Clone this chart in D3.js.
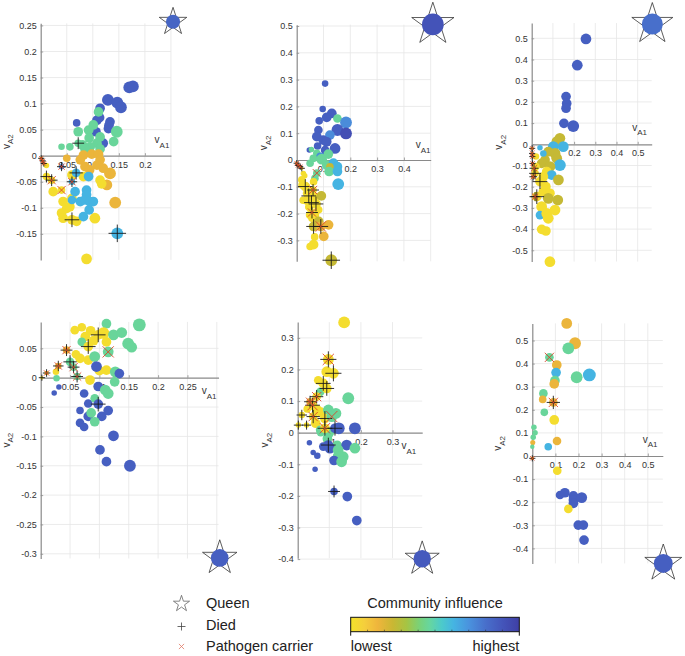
<!DOCTYPE html>
<html><head><meta charset="utf-8">
<script src="https://cdn.jsdelivr.net/npm/d3@7"></script>
<style>
body{margin:0;background:#fff}
svg{display:block}
text{font-family:"Liberation Sans",Arial,Helvetica,sans-serif}
</style>
</head><body>
<svg id="c" width="685" height="656"></svg>
<script>
// ---------- DATA ----------
// each row: [vA1, vA2, community influence (0 lowest .. 1 highest), size class, status]
// status: 0 = none, 1 = died, 2 = pathogen carrier, 3 = died + pathogen carrier
const panel1 = [
[0.170,0.131,0.86,5,0],[0.177,0.133,0.86,5,0],[0.129,0.107,0.86,5,0],[0.147,0.102,0.86,5,0],
[0.154,0.093,0.86,5,0],[0.114,0.091,0.86,4,0],[0.108,0.068,0.86,4,0],[0.113,0.073,0.86,4,0],
[0.133,0.065,0.86,4,0],[0.130,0.052,0.86,4,0],[0.131,0.058,0.86,4,0],[0.069,0.063,0.86,3,0],
[0.106,0.046,0.86,4,0],[0.120,0.024,0.86,4,0],
[0.111,0.084,0.46,4,0],[0.072,0.046,0.46,4,0],[0.092,0.049,0.46,4,0],[0.101,0.059,0.46,4,0],
[0.146,0.046,0.46,5,0],[0.140,0.027,0.46,4,0],[0.093,0.034,0.46,4,0],[0.114,0.036,0.46,4,0],
[0.080,0.021,0.46,4,0],[0.108,0.024,0.46,4,0],[0.056,0.017,0.46,3,0],[0.040,0.017,0.46,2.5,0],
[0.095,0.017,0.46,4,0],[0.114,0.013,0.46,4,0],[0.085,0.013,0.46,4,0],[0.072,0.024,0.46,3,1],
[0.082,0.001,0.17,4,0],[0.098,0.003,0.17,4,0],[0.111,0.003,0.17,4,0],[0.114,-0.008,0.17,4,0],
[0.108,-0.018,0.17,4,0],[0.120,-0.024,0.17,4,0],[0.076,-0.008,0.17,4,0],[0.050,-0.005,0.17,3,0],
[0.133,-0.034,0.17,5,0],[0.127,-0.056,0.17,4.5,0],[0.143,-0.090,0.17,5,0],[0.085,-0.021,0.17,4,0],
[0.094,-0.027,0.17,4,0],
[0.011,-0.019,0.02,2,0],[0.114,-0.047,0.02,4,0],[0.117,-0.054,0.02,4,0],[0.060,-0.037,0.02,4,0],
[0.082,-0.040,0.02,4,0],[0.024,-0.069,0.02,4,0],[0.043,-0.088,0.02,4,0],[0.050,-0.101,0.02,4,0],
[0.056,-0.098,0.02,4,0],[0.060,-0.082,0.02,4,0],[0.040,-0.110,0.02,4,0],[0.043,-0.120,0.02,4,0],
[0.069,-0.126,0.02,4,0],[0.104,-0.120,0.02,4.5,0],[0.088,-0.198,0.02,4.5,0],
[0.092,-0.040,0.61,4,0],[0.066,-0.069,0.61,4,0],[0.088,-0.066,0.61,4,0],[0.088,-0.075,0.61,4,0],
[0.076,-0.088,0.61,4,0],[0.085,-0.085,0.61,4,0],[0.094,-0.088,0.61,4,0],[0.101,-0.088,0.61,4,0],
[0.093,-0.104,0.61,4,0],[0.082,-0.117,0.61,4,0],[0.060,-0.085,0.61,3.5,0],[0.147,-0.149,0.61,5,1],
[0.011,-0.040,0.02,3,1],[0.021,-0.047,0.02,3,3],[0.040,-0.066,0.02,3,2],[0.040,-0.021,0.72,2,3],
[0.060,-0.050,0.61,2.5,3],[0.068,-0.033,0.61,3.5,1],[0.060,-0.123,0.02,4,1],
[0.001,-0.005,0.02,1,3],[0.004,-0.010,0.02,1,3],[0.006,-0.015,0.02,1,3]
];
const panel2 = [
[0.106,0.285,0.86,2.5,0],[0.097,0.190,0.86,2.5,0],[0.131,0.174,0.86,4,0],[0.152,0.155,0.46,3.5,0],
[0.184,0.140,0.72,5,0],[0.084,0.146,0.86,3,0],[0.112,0.159,0.86,4,0],[0.081,0.112,0.86,3.5,0],
[0.075,0.087,0.86,4,0],[0.152,0.112,0.86,5,0],[0.184,0.099,0.93,5,0],[0.124,0.093,0.72,4,0],
[0.099,0.074,0.86,4,0],[0.112,0.068,0.86,4,0],[0.078,0.052,0.86,3,0],[0.143,0.043,0.86,4.5,0],
[0.106,0.037,0.86,3.5,0],[0.047,0.037,0.86,2,0],[0.055,0.039,0.46,2,0],[0.075,0.025,0.46,3,0],
[0.118,0.022,0.46,4,0],[0.088,0.012,0.72,3.5,0],[0.062,0.006,0.46,3,0],[0.093,0.003,0.46,4.5,0],
[0.050,-0.012,0.46,3,0],[0.112,-0.019,0.46,4,0],[0.137,-0.012,0.61,4,0],[0.152,-0.025,0.61,4,0],
[0.124,-0.025,0.26,3,0],[0.121,-0.043,0.46,4,0],[0.152,-0.043,0.61,4,0],[0.155,-0.090,0.61,5,0],
[0.068,-0.068,0.46,3,0],[0.075,-0.049,0.46,3,2],
[0.025,-0.050,0.02,2,0],[0.030,-0.059,0.02,2,0],[0.019,-0.074,0.02,3,0],[0.020,-0.093,0.02,3,0],
[0.063,-0.081,0.02,3,0],[0.037,-0.124,0.02,3,0],[0.045,-0.130,0.02,3,0],[0.069,-0.136,0.02,3,0],
[0.024,-0.150,0.02,3,0],[0.040,-0.155,0.02,3,0],[0.047,-0.175,0.02,3.5,0],[0.092,-0.134,0.26,4,0],
[0.082,-0.186,0.02,3,0],[0.050,-0.205,0.02,3.5,0],[0.070,-0.205,0.02,3,0],[0.057,-0.217,0.02,3,0],
[0.082,-0.229,0.26,4,0],[0.119,-0.242,0.17,4,0],[0.101,-0.285,0.17,4,0],[0.067,-0.287,0.02,3,0],
[0.063,-0.316,0.02,4,0],[0.050,-0.323,0.02,3,0],
[0.032,-0.099,0.02,4,1],[0.061,-0.112,0.02,3,3],[0.045,-0.134,0.02,4,1],[0.055,-0.159,0.02,4,1],
[0.072,-0.164,0.02,4,1],[0.057,-0.196,0.02,3,3],[0.063,-0.248,0.26,4,1],[0.090,-0.248,0.17,4,3],
[0.129,-0.374,0.26,5,1],
[0.000,-0.012,0.02,1,3],[0.005,-0.020,0.02,1,3],[0.013,-0.025,0.02,1,3],[0.019,-0.031,0.02,1,1]
];
const panel3 = [
[0.256,0.497,0.86,4.5,0],[0.215,0.373,0.86,4.5,0],[0.162,0.225,0.86,4,0],[0.165,0.193,0.86,4,0],
[0.162,0.170,0.86,4,0],[0.152,0.099,0.86,4,0],[0.196,0.086,0.86,5,0],
[0.133,0.028,0.26,4.5,0],[0.119,0.013,0.26,4.5,0],[0.102,-0.011,0.61,4.5,0],[0.149,-0.011,0.61,4.5,0],
[0.078,-0.035,0.26,4,0],[0.110,-0.043,0.26,4.5,0],[0.118,-0.066,0.26,4.5,0],[0.133,-0.098,0.61,5,0],
[0.063,-0.074,0.26,4,0],[0.047,-0.090,0.26,4,0],[0.086,-0.105,0.26,4.5,0],[0.071,-0.129,0.02,4,0],
[0.094,-0.145,0.61,4,0],[0.055,-0.153,0.02,4,0],[0.126,-0.168,0.26,4.5,0],[0.067,-0.200,0.02,4,0],
[0.055,-0.223,0.02,4,0],[0.086,-0.231,0.02,4,0],[0.078,-0.255,0.26,4.5,0],[0.123,-0.263,0.26,4.5,0],
[0.047,-0.294,0.02,4.5,0],[0.039,-0.334,0.61,3.5,0],[0.071,-0.326,0.02,4.5,0],[0.110,-0.310,0.02,4.5,0],
[0.078,-0.349,0.02,4.5,0],[0.047,-0.401,0.02,4,0],[0.067,-0.409,0.02,4,0],[0.086,-0.554,0.02,4.5,0],
[0.039,-0.016,0.61,2,0],[0.055,-0.043,0.61,2.5,0],[0.020,-0.058,0.02,2.5,0],[0.020,-0.105,0.02,3,0],
[0.039,-0.176,0.02,4,1],[0.024,-0.247,0.02,4,1],[0.016,-0.247,0.17,2,3],[0.016,-0.137,0.02,3,1],
[0.011,-0.113,0.02,2,3],[0.002,-0.019,0.02,1,3],[0.002,-0.043,0.02,1,3],[0.003,-0.058,0.02,1,3],
[0.004,-0.090,0.02,1,3],[0.007,-0.153,0.17,1.5,3]
];
const panel4 = [
[0.112,0.092,0.46,4,0],[0.168,0.090,0.46,5.5,0],[0.058,0.081,0.02,3.5,0],[0.070,0.086,0.02,3.5,0],
[0.085,0.080,0.02,4,0],[0.107,0.076,0.02,5,0],[0.124,0.073,0.46,4.5,0],[0.138,0.077,0.46,4.5,0],
[0.076,0.070,0.02,4,0],[0.070,0.061,0.46,3.5,0],[0.090,0.063,0.02,4,0],[0.112,0.061,0.02,4,0],
[0.149,0.058,0.46,5,0],[0.155,0.052,0.46,4.5,0],[0.067,0.033,0.02,4,0],[0.060,0.040,0.02,3.5,0],
[0.081,0.030,0.02,4,0],[0.092,0.036,0.46,4.5,0],[0.100,0.012,0.02,4,0],[0.095,0.019,0.86,4.5,0],
[0.112,0.013,0.02,4,0],[0.127,0.010,0.46,4.5,0],[0.134,0.007,0.86,4,0],[0.084,-0.004,0.02,4,0],
[0.126,-0.007,0.46,4,0],[0.098,-0.015,0.86,4,0],[0.110,-0.021,0.46,4.5,0],[0.115,-0.027,0.46,4.5,0],
[0.074,-0.027,0.86,3.5,0],[0.081,-0.044,0.86,3.5,0],[0.092,-0.035,0.46,3.5,0],[0.067,-0.056,0.86,3,0],
[0.104,-0.066,0.86,4,0],[0.115,-0.056,0.86,4,0],[0.081,-0.066,0.86,4,0],[0.092,-0.075,0.46,4,0],
[0.067,-0.077,0.86,3.5,0],[0.074,-0.084,0.86,3.5,0],[0.086,-0.060,0.46,4,0],[0.124,-0.099,0.86,4.5,0],
[0.101,-0.123,0.86,4,0],[0.112,-0.143,0.86,4,0],[0.152,-0.150,0.86,5,0],[0.023,-0.026,0.86,2,0],
[0.031,-0.016,0.86,2,0],[0.027,-0.001,0.46,2.5,0],[0.026,0.010,0.02,2.5,0],
[0.098,0.073,0.02,4,1],[0.081,0.053,0.02,4,1],[0.115,0.044,0.46,4.5,2],[0.044,0.047,0.17,3,3],
[0.050,0.027,0.46,3.5,1],[0.056,0.018,0.46,3,3],[0.062,0.002,0.46,3,3],[0.030,0.020,0.17,2.5,3],
[0.010,0.008,0.02,1.5,3],[0.002,0.000,0.02,1,1],[0.098,-0.045,0.86,4,1]
];
const panel5 = [
[0.147,0.349,0.02,5,0],[0.092,0.193,0.02,4.5,0],[0.065,0.166,0.02,3.5,0],[0.071,0.129,0.46,3.5,0],
[0.160,0.109,0.46,5,0],[0.030,0.075,0.02,3,0],[0.062,0.072,0.02,4,0],[0.073,0.065,0.02,4,0],
[0.057,0.030,0.02,4,0],[0.097,0.072,0.46,4.5,0],[0.121,0.061,0.46,4.5,0],[0.130,0.014,0.86,5,0],
[0.181,0.014,0.86,5,0],[0.071,0.009,0.46,3.5,0],[0.073,0.002,0.46,3.5,0],[0.100,0.000,0.46,4,0],
[0.094,-0.019,0.46,4,0],[0.125,-0.040,0.46,4,0],[0.155,-0.039,0.86,4.5,0],[0.081,-0.044,0.86,3.5,0],
[0.102,-0.049,0.86,4.5,0],[0.128,-0.055,0.46,4.5,0],[0.181,-0.049,0.46,4.5,0],[0.144,-0.076,0.46,4.5,0],
[0.128,-0.075,0.46,4.5,0],[0.115,-0.088,0.86,4,0],[0.139,-0.092,0.46,4.5,0],[0.037,-0.032,0.86,2,0],
[0.049,-0.063,0.86,2,0],[0.062,-0.073,0.86,2.5,0],[0.055,-0.116,0.86,2,0],[0.157,-0.202,0.86,4,0],
[0.187,-0.278,0.86,4,0],
[0.097,0.232,0.02,4.5,3],[0.113,0.188,0.02,4.5,1],[0.081,0.156,0.02,4,1],[0.092,0.140,0.02,4,1],
[0.060,0.114,0.02,3.5,3],[0.039,0.098,0.17,3,3],[0.047,0.087,0.02,4,3],[0.013,0.056,0.02,2.5,1],
[0.049,0.051,0.02,3.5,3],[0.086,0.045,0.02,4,1],[0.108,0.051,0.46,4.5,2],[0.028,0.024,0.02,2,1],
[0.002,0.024,0.02,2,1],[0.086,0.014,0.02,4,3],[0.118,0.014,0.86,4,1],[0.097,-0.039,0.86,4,1],
[0.115,-0.186,0.86,3,1]
];
const panel6 = [
[0.149,0.574,0.17,4.5,0],[0.185,0.488,0.17,5,0],[0.156,0.466,0.46,5,0],[0.074,0.427,0.46,3.5,2],
[0.106,0.394,0.17,4,0],[0.103,0.361,0.61,4,0],[0.192,0.341,0.46,5,0],[0.247,0.351,0.61,5.5,0],
[0.098,0.326,0.46,4,0],[0.095,0.312,0.17,4,0],[0.048,0.271,0.46,3.5,0],[0.045,0.245,0.17,3,0],
[0.091,0.232,0.17,3.5,3],[0.052,0.189,0.46,3,0],[0.095,0.156,0.02,4,0],[0.007,0.124,0.46,2,0],
[0.012,0.101,0.46,2,0],[0.004,0.081,0.46,2,0],[0.002,0.058,0.17,1.8,0],[0.000,0.040,0.46,1.5,0],
[0.069,0.040,0.61,3,0],[0.107,0.065,0.17,3.5,0],[0.000,-0.010,0.02,1,3],[0.108,-0.064,0.02,3.5,0],
[0.120,-0.169,0.86,3.5,0],[0.141,-0.159,0.86,4,0],[0.178,-0.173,0.86,4,0],[0.178,-0.190,0.86,4,0],
[0.178,-0.205,0.86,4,0],[0.214,-0.180,0.86,4.5,0],[0.156,-0.229,0.02,3.5,0],[0.199,-0.299,0.86,4,0],
[0.221,-0.299,0.86,4,0],[0.224,-0.364,0.86,4,0]
];
// queens: [vA1, vA2, influence, size class]
const queens = [
[0.254,0.257,0.84,6.1],[0.508,0.506,0.91,9.7],[0.569,0.567,0.80,9.4],
[0.305,-0.307,0.86,7.8],[0.394,-0.399,0.88,7.7],[0.567,-0.465,0.86,8.4]
];
// axis limits
const xLimits = [0.25, 0.5, 0.566, 0.303, 0.394, 0.565];
const yLimits = [[-0.2,0.254],[-0.378,0.505],[-0.553,0.572],[-0.308,0.095],[-0.397,0.35],[-0.465,0.574]];
// ticks
const xGridTicks = [[0.05,0.1,0.15,0.2,0.25],[0.1,0.2,0.3,0.4,0.5],[0.1,0.2,0.3,0.4,0.5],
  [0.05,0.1,0.15,0.2,0.25,0.3],[0.1,0.2,0.3],[0.1,0.2,0.3,0.4,0.5]];
const xLabelTicks = [[0.05,0.1,0.15,0.2],[0.1,0.2,0.3,0.4],[0.1,0.2,0.3,0.4,0.5],
  [0.05,0.1,0.15,0.2,0.25],[0.1,0.2,0.3],[0.1,0.2,0.3,0.4,0.5]];
const yTicks = [
  [-0.15,-0.1,-0.05,0,0.05,0.1,0.15,0.2,0.25],
  [-0.3,-0.2,-0.1,0,0.1,0.2,0.3,0.4,0.5],
  [-0.5,-0.4,-0.3,-0.2,-0.1,0,0.1,0.2,0.3,0.4,0.5],
  [-0.3,-0.25,-0.2,-0.15,-0.1,-0.05,0,0.05],
  [-0.4,-0.3,-0.2,-0.1,0,0.1,0.2,0.3],
  [-0.4,-0.3,-0.2,-0.1,0,0.1,0.2,0.3,0.4,0.5]
];
// colour map (community influence)
const cbStops  = [0, 0.08, 0.16, 0.25, 0.33, 0.41, 0.47, 0.54, 0.61, 0.70, 0.80, 0.90, 1];
const cbColors = ["#f3e22a","#f5cf3c","#efb53c","#c9b733","#a6c443","#78d27a","#66d6a0",
                  "#4ccacb","#45b4e2","#4a93de","#486fcb","#4455ba","#3f3fa5"];
const legendLabels = ["Queen","Died","Pathogen carrier"];
const cbTitle = "Community influence", cbLow = "lowest", cbHigh = "highest";

// ---------- LAYOUT ----------
const panels = [panel1, panel2, panel3, panel4, panel5, panel6];
const layout = [
  {ox:40.7, oy:155.7, k:521, lx:-16.4, ly:-12.4, yl:-31},
  {ox:296.7,oy:160,   k:268, lx:-15,   ly:-11.7, yl:-29.5},
  {ox:531.7,oy:144.3, k:212, lx:-19.4, ly:-13.6, yl:-29.7},
  {ox:40.7, oy:377.7, k:587, lx:-16.8, ly:16.3,  yl:-31},
  {ox:297.7,oy:432.7, k:316, lx:-20.8, ly:16.6,  yl:-29.7},
  {ox:532.3,oy:456,   k:231, lx:-20.1, ly:-13.3, yl:-31}
];

const svg = d3.select("#c");
const color = d3.scaleLinear().domain(cbStops).range(cbColors).interpolate(d3.interpolateRgb);
const rScale = d3.scaleLinear().domain([1,5]).range([1.7,5.9]);
const fmt = d => (Math.abs(d) < 1e-9 ? "0" : String(+d.toFixed(3)));
const AX = "#8a8a8a", TXT = "#333";

function starPts(cx, cy, R){
  const pts=[];
  for(let i=0;i<10;i++){
    const a=-Math.PI/2+i*Math.PI/5, rr=i%2===0?R:R*0.382;
    pts.push([cx+rr*Math.cos(a), cy+rr*Math.sin(a)]);
  }
  return d3.line()(pts)+"Z";
}
const plusPath = (x,y,h)=>`M${x-h},${y}H${x+h}M${x},${y-h}V${y+h}`;
const crossPath = (x,y,h)=>`M${x-h},${y-h}L${x+h},${y+h}M${x-h},${y+h}L${x+h},${y-h}`;

panels.forEach((pts, i) => {
  const L = layout[i];
  const x1 = xLimits[i], [y0, y1] = yLimits[i];
  const xs = d3.scaleLinear().domain([0, x1]).range([L.ox, L.ox + L.k*x1]);
  const ys = d3.scaleLinear().domain([y0, y1]).range([L.oy - L.k*y0, L.oy - L.k*y1]);
  const g = svg.append("g");

  // grid
  g.selectAll(".gx").data(xGridTicks[i]).join("line")
    .attr("x1", d=>xs(d)).attr("x2", d=>xs(d)).attr("y1", ys(y0)).attr("y2", ys(y1))
    .attr("stroke", "#e6e6e6").attr("stroke-width", 0.8);
  g.selectAll(".gy").data(yTicks[i].filter(d=>d!==0)).join("line")
    .attr("x1", xs(0)).attr("x2", xs(x1)).attr("y1", d=>ys(d)).attr("y2", d=>ys(d))
    .attr("stroke", "#e6e6e6").attr("stroke-width", 0.8);

  // axes at origin
  const ya = g.append("g").attr("transform", `translate(${xs(0)},0)`)
    .call(d3.axisLeft(ys).tickValues(yTicks[i]).tickFormat(fmt).tickSizeInner(-2.5).tickSizeOuter(0).tickPadding(4));
  const xa = g.append("g").attr("transform", `translate(0,${ys(0)})`)
    .call(d3.axisBottom(xs).tickValues(xLabelTicks[i]).tickFormat(fmt).tickSizeInner(-2.5).tickSizeOuter(0).tickPadding(3.5));
  [ya, xa].forEach(a => {
    a.select(".domain").attr("stroke", AX).attr("stroke-width", 1.2);
    a.selectAll(".tick line").attr("stroke", AX).attr("stroke-width", 0.8);
    a.selectAll(".tick text").attr("fill", TXT).style("font-size", "9px")
      .style("font-family", '"Liberation Sans",Arial,sans-serif');
  });
  xa.selectAll(".tick text").attr("dy", "0.95em");

  // axis labels
  const xl = g.append("text").attr("x", xs(x1) + L.lx).attr("y", L.oy + L.ly)
    .attr("fill", TXT).style("font-size", "10px");
  xl.append("tspan").text("v");
  xl.append("tspan").text("A1").attr("dy", 4.5).style("font-size", "8px");
  const ymid = (ys(y0) + ys(y1)) / 2;
  const yl = g.append("text").attr("transform", `translate(${L.ox + L.yl},${ymid}) rotate(-90)`)
    .attr("text-anchor", "middle").attr("fill", TXT).style("font-size", "10px");
  yl.append("tspan").text("v");
  yl.append("tspan").text("A2").attr("dy", 3.5).style("font-size", "8px");

  // points
  g.selectAll(".pt").data(pts).join("circle")
    .attr("cx", d=>xs(d[0])).attr("cy", d=>ys(d[1])).attr("r", d=>rScale(d[3]))
    .attr("fill", d=>color(d[2]));

  // status markers
  g.selectAll(".died").data(pts.filter(d=>d[4]===1||d[4]===3)).join("path")
    .attr("d", d=>plusPath(xs(d[0]), ys(d[1]), rScale(d[3])*1.35+0.8))
    .attr("stroke", "#1a1a1a").attr("stroke-width", 0.9).attr("fill", "none");
  g.selectAll(".carrier").data(pts.filter(d=>d[4]===2||d[4]===3)).join("path")
    .attr("d", d=>crossPath(xs(d[0]), ys(d[1]), rScale(d[3])*0.95+0.5))
    .attr("stroke", "#d9452b").attr("stroke-width", 0.9).attr("fill", "none");

  // queen
  const q = queens[i], qr = rScale(q[3]);
  g.append("path").attr("d", starPts(xs(q[0]), ys(q[1]), qr*2.05))
    .attr("fill", "none").attr("stroke", "#333").attr("stroke-width", 0.8);
  g.append("circle").attr("cx", xs(q[0])).attr("cy", ys(q[1])).attr("r", qr).attr("fill", color(q[2]));
});

// ---------- LEGEND ----------
const lg = svg.append("g");
lg.append("path").attr("d", starPts(181.5, 603.8, 8.5)).attr("fill", "none")
  .attr("stroke", "#666").attr("stroke-width", 0.8);
lg.append("path").attr("d", plusPath(181.5, 626.5, 4)).attr("stroke", "#444").attr("stroke-width", 0.8);
lg.append("path").attr("d", crossPath(181.5, 646.5, 2.6)).attr("stroke", "#e07a66").attr("stroke-width", 0.8);
lg.selectAll(".lt").data(legendLabels).join("text")
  .attr("x", 206).attr("y", (d,i)=>[608,630,651][i]).text(d=>d)
  .attr("fill", "#222").style("font-size", "14.5px");

// ---------- COLORBAR ----------
const cbX0 = 350.7, cbX1 = 519.3, cbY = 617.3, cbH = 14.4;
const defs = svg.append("defs");
const grad = defs.append("linearGradient").attr("id", "cbg").attr("x1", "0%").attr("x2", "100%");
grad.selectAll("stop").data(cbStops).join("stop")
  .attr("offset", d=>(d*100)+"%").attr("stop-color", (d,i)=>cbColors[i]);
const cbScale = d3.scaleLinear().domain([0,1]).range([cbX0, cbX1]);
svg.append("rect").attr("x", cbX0).attr("y", cbY).attr("width", cbX1-cbX0).attr("height", cbH)
  .attr("fill", "url(#cbg)").attr("stroke", "#111").attr("stroke-width", 1);
svg.selectAll(".cbt").data(d3.range(1,10).map(d=>d/10)).join("line")
  .attr("x1", d=>cbScale(d)).attr("x2", d=>cbScale(d)).attr("y1", cbY+cbH).attr("y2", cbY+cbH-2)
  .attr("stroke", "#333").attr("stroke-width", 0.6);
svg.selectAll(".cbe").data([0,1]).join("line")
  .attr("x1", d=>cbScale(d)).attr("x2", d=>cbScale(d)).attr("y1", cbY+cbH).attr("y2", cbY+cbH+4)
  .attr("stroke", "#111").attr("stroke-width", 1);
svg.append("text").attr("x", (cbX0+cbX1)/2).attr("y", 608).attr("text-anchor", "middle")
  .text(cbTitle).attr("fill", "#222").style("font-size", "14.5px");
svg.append("text").attr("x", cbX0).attr("y", 650.5).text(cbLow).attr("fill", "#222").style("font-size", "14.5px");
svg.append("text").attr("x", cbX1).attr("y", 650.5).attr("text-anchor", "end").text(cbHigh)
  .attr("fill", "#222").style("font-size", "14.5px");
</script>
</body></html>
